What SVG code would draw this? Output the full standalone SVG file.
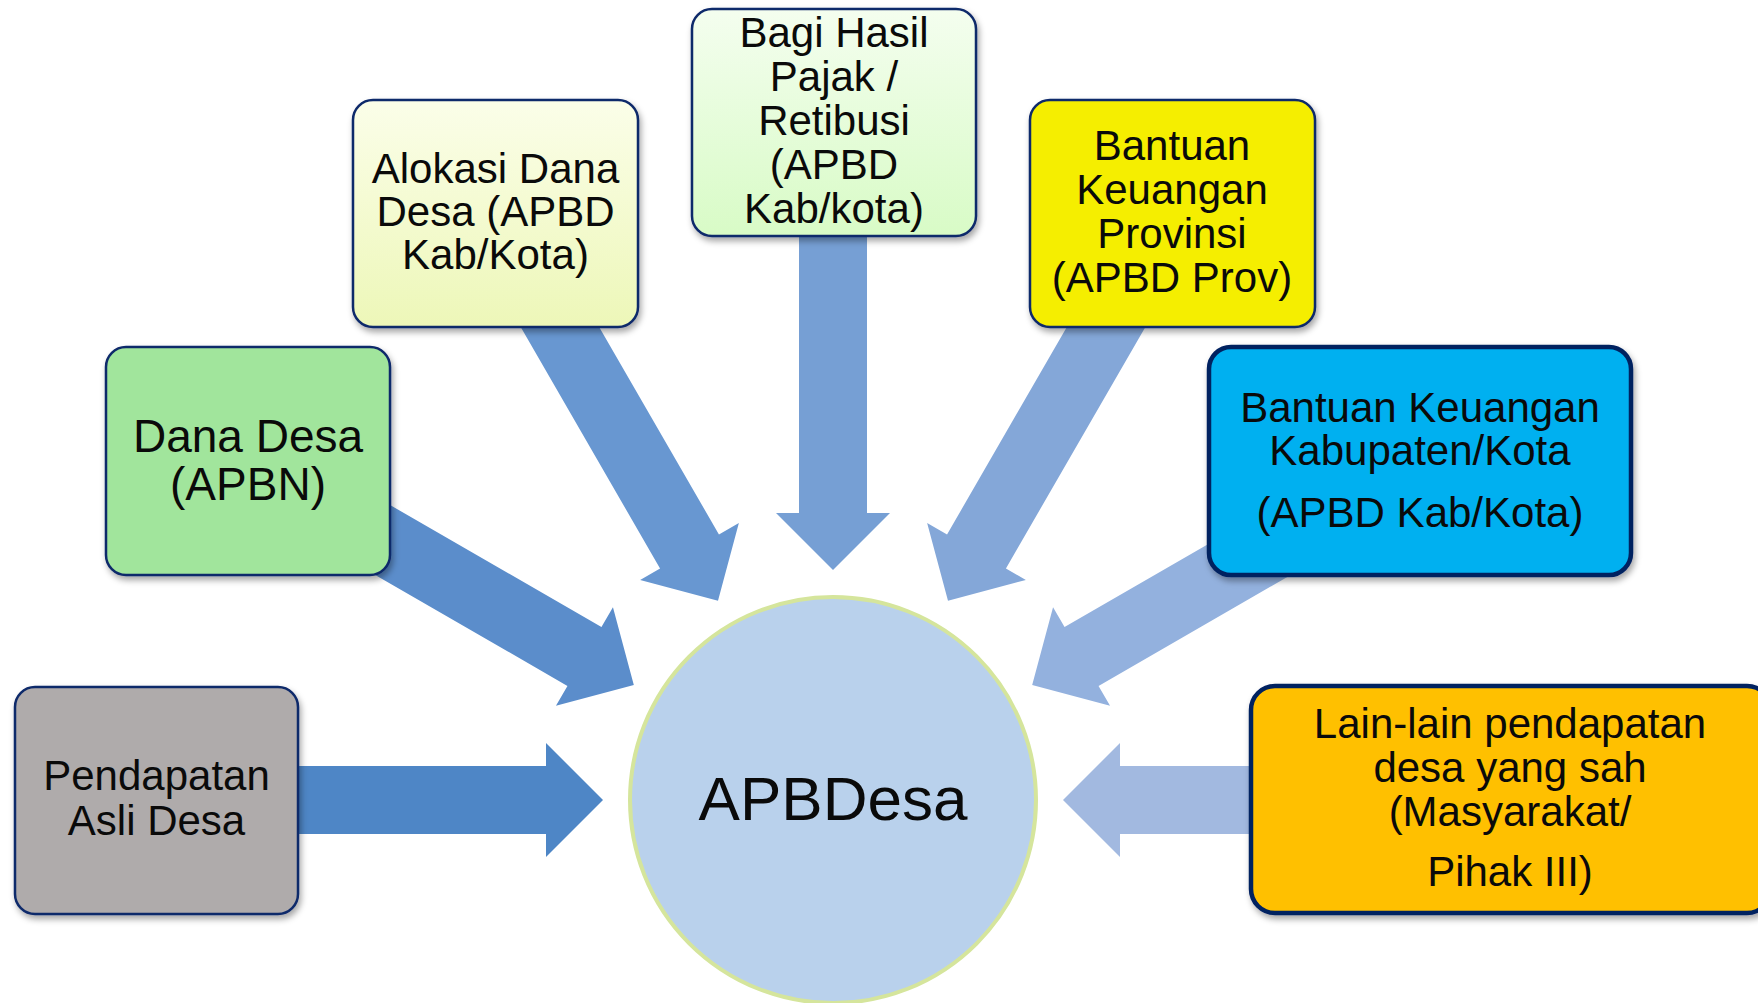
<svg xmlns="http://www.w3.org/2000/svg" width="1758" height="1003" viewBox="0 0 1758 1003">
<style>
  .lbl { font-family: "Liberation Sans", Arial, sans-serif; font-size: 42px; fill: #0a0a0a; text-anchor: middle; }
  .box { stroke: #10296a; stroke-width: 2.5; }
  .boxthick { stroke: #002060; stroke-width: 4.5; }
</style>
<defs>
  <filter id="sh" x="-10%" y="-10%" width="125%" height="130%">
    <feDropShadow dx="2" dy="4" stdDeviation="3" flood-color="#000" flood-opacity="0.35"/>
  </filter>
  <linearGradient id="gAlok" x1="0" y1="0" x2="0" y2="1">
    <stop offset="0" stop-color="#fbfee9"/>
    <stop offset="1" stop-color="#edf7b8"/>
  </linearGradient>
  <linearGradient id="gBagi" x1="0" y1="0" x2="0" y2="1">
    <stop offset="0" stop-color="#f4feef"/>
    <stop offset="1" stop-color="#d8fbc6"/>
  </linearGradient>
  <path id="arr" d="M-230,0 L-287,-57 L-287,-34 L-600,-34 L-600,34 L-287,34 L-287,57 Z"/>
</defs>

<g id="connectors">
  <use href="#arr" transform="translate(833,800) rotate(0)" fill="#4e86c6"/>
  <use href="#arr" transform="translate(833,800) rotate(30)" fill="#5b8dcb"/>
  <use href="#arr" transform="translate(833,800) rotate(60)" fill="#6897d1"/>
  <use href="#arr" transform="translate(833,800) rotate(90)" fill="#769fd4"/>
  <use href="#arr" transform="translate(833,800) rotate(120)" fill="#84a7d8"/>
  <use href="#arr" transform="translate(833,800) rotate(150)" fill="#93b1de"/>
  <use href="#arr" transform="translate(833,800) rotate(180)" fill="#a2b9e0"/>
</g>

<g id="apbdesa">
  <circle cx="833" cy="800" r="203" fill="#b9d1ec" stroke="#d5e59c" stroke-width="4"/>
  <text x="833" y="820" class="lbl" style="font-size:62px">APBDesa</text>
</g>

<g id="pendapatan">
  <rect x="15" y="687" width="283" height="227" rx="20" fill="#afabab" class="box" filter="url(#sh)"/>
  <text class="lbl" x="156.5" y="790">Pendapatan</text>
  <text class="lbl" x="156.5" y="835">Asli Desa</text>
</g>

<g id="danadesa">
  <rect x="106" y="347" width="284" height="228" rx="20" fill="#a1e59c" class="box" filter="url(#sh)"/>
  <text class="lbl" x="248" y="452" style="font-size:46px">Dana Desa</text>
  <text class="lbl" x="248" y="500" style="font-size:46px">(APBN)</text>
</g>

<g id="alokasi">
  <rect x="353" y="100" width="285" height="227" rx="20" fill="url(#gAlok)" class="box" filter="url(#sh)"/>
  <text class="lbl" x="495.5" y="183">Alokasi Dana</text>
  <text class="lbl" x="495.5" y="226">Desa (APBD</text>
  <text class="lbl" x="495.5" y="269">Kab/Kota)</text>
</g>

<g id="bagihasil">
  <rect x="692" y="9" width="284" height="227" rx="20" fill="url(#gBagi)" class="box" filter="url(#sh)"/>
  <text class="lbl" x="834" y="47">Bagi Hasil</text>
  <text class="lbl" x="834" y="91">Pajak /</text>
  <text class="lbl" x="834" y="135">Retibusi</text>
  <text class="lbl" x="834" y="179">(APBD</text>
  <text class="lbl" x="834" y="223">Kab/kota)</text>
</g>

<g id="provinsi">
  <rect x="1030" y="100" width="285" height="227" rx="20" fill="#f5ee00" class="box" filter="url(#sh)"/>
  <text class="lbl" x="1172" y="160">Bantuan</text>
  <text class="lbl" x="1172" y="204">Keuangan</text>
  <text class="lbl" x="1172" y="248">Provinsi</text>
  <text class="lbl" x="1172" y="292">(APBD Prov)</text>
</g>

<g id="kabupaten">
  <rect x="1209" y="347" width="422" height="228" rx="22" fill="#00b0f0" class="boxthick" filter="url(#sh)"/>
  <text class="lbl" x="1420" y="422">Bantuan Keuangan</text>
  <text class="lbl" x="1420" y="465">Kabupaten/Kota</text>
  <text class="lbl" x="1420" y="527">(APBD Kab/Kota)</text>
</g>

<g id="lainlain">
  <rect x="1251" y="686" width="520" height="227" rx="24" fill="#ffc000" class="boxthick" filter="url(#sh)"/>
  <text class="lbl" x="1510" y="738">Lain-lain pendapatan</text>
  <text class="lbl" x="1510" y="782">desa yang sah</text>
  <text class="lbl" x="1510" y="826">(Masyarakat/</text>
  <text class="lbl" x="1510" y="886">Pihak III)</text>
</g>
</svg>
